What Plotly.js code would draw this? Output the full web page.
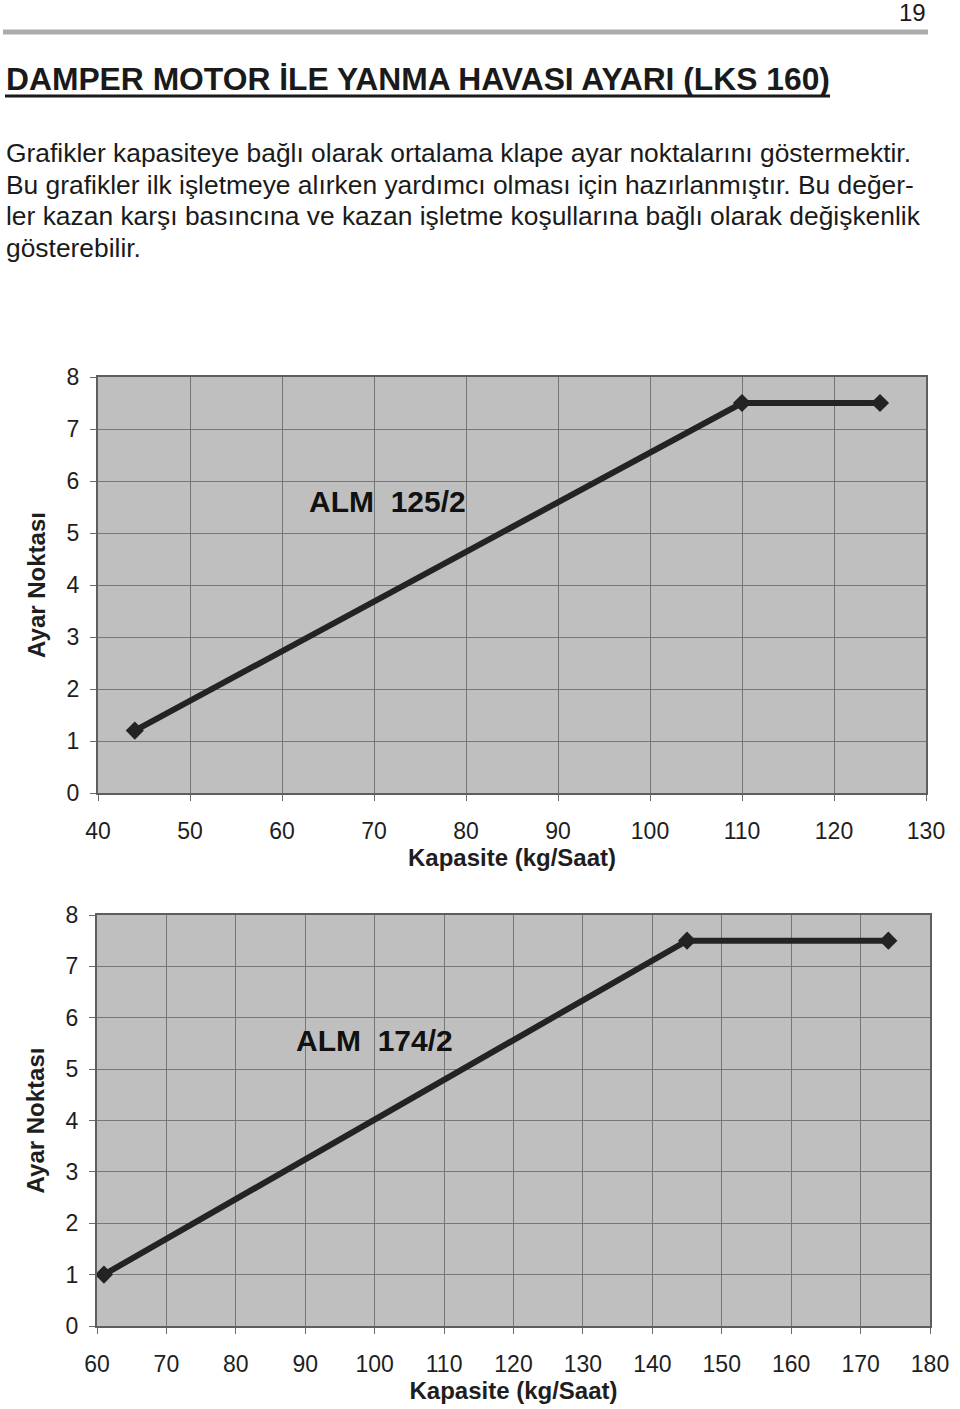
<!DOCTYPE html>
<html>
<head>
<meta charset="utf-8">
<script src="https://cdn.plot.ly/plotly-3.0.1.min.js"></script>
<style>
  body { margin: 0; background: #fff; }
  #plot { width: 960px; height: 1409px; }
</style>
</head>
<body>
<div id="plot"></div>
<script>
// ALM 125/2
var kap1 = [44, 110, 125];
var ayar1 = [1.2, 7.5, 7.5];
// ALM 174/2
var kap2 = [61, 145, 174];
var ayar2 = [1, 7.5, 7.5];

var pageNo = '19';
var heading = 'DAMPER MOTOR İLE YANMA HAVASI AYARI (LKS 160)';
var bodyLines = [
    'Grafikler kapasiteye bağlı olarak ortalama klape ayar noktalarını göstermektir.',
    'Bu grafikler ilk işletmeye alırken yardımcı olması için hazırlanmıştır. Bu değer-',
    'ler kazan karşı basıncına ve kazan işletme koşullarına bağlı olarak değişkenlik',
    'gösterebilir.'
];

var W = 960, H = 1409;
function px(x) { return x / W; }
function py(y) { return 1 - y / H; }

var lineStyle = { color: '#232323', width: 6 };
var markerStyle = { symbol: 'diamond', size: 14, color: '#232323' };

var trace1 = {
    x: kap1, y: ayar1,
    mode: 'lines+markers', type: 'scatter',
    line: lineStyle, marker: markerStyle,
    xaxis: 'x', yaxis: 'y'
};
var trace2 = {
    x: kap2, y: ayar2,
    mode: 'lines+markers', type: 'scatter',
    line: lineStyle, marker: markerStyle,
    xaxis: 'x2', yaxis: 'y2'
};

var sans = 'Liberation Sans, Arial, sans-serif';
var tickFont = { family: sans, size: 23, color: '#1e1e1e' };
var titleFont = { family: sans, size: 24, color: '#1e1e1e' };

function xAxis(domain, range, anchor) {
    return {
        domain: domain, range: range, dtick: 10, anchor: anchor,
        showgrid: true, gridcolor: '#777777', gridwidth: 1,
        showline: true, linecolor: '#5e5e5e', linewidth: 2, mirror: true,
        ticks: 'outside', ticklen: 6, tickcolor: '#6a6a6a',
        ticklabelstandoff: 10,
        zeroline: false, tickfont: tickFont,
        title: { text: '<b>Kapasite (kg/Saat)</b>', font: titleFont, standoff: 0 }
    };
}
function yAxis(domain, anchor) {
    return {
        domain: domain, range: [0, 8], dtick: 1, anchor: anchor,
        showgrid: true, gridcolor: '#777777', gridwidth: 1,
        showline: true, linecolor: '#5e5e5e', linewidth: 2, mirror: true,
        ticks: 'outside', ticklen: 6, tickcolor: '#6a6a6a',
        ticklabelstandoff: 6,
        zeroline: false, tickfont: tickFont,
        title: { text: '<b>Ayar Noktası</b>', font: titleFont, standoff: 14 }
    };
}

var textFont = { family: sans, size: 26.4, color: '#1a1a1a' };

var annotations = [
    { xref: 'paper', yref: 'paper', x: px(928), y: py(13), xanchor: 'right', yanchor: 'middle',
      text: pageNo, showarrow: false, font: { family: sans, size: 24, color: '#1a1a1a' } },
    { xref: 'paper', yref: 'paper', x: px(4), y: py(79), xanchor: 'left', yanchor: 'middle',
      text: '<b>' + heading + '</b>', showarrow: false,
      font: { family: sans, size: 31.8, color: '#1a1a1a' } },
    { xref: 'x', yref: 'y', x: 71.5, y: 5.6, text: '<b>ALM  125/2</b>', showarrow: false,
      font: { family: sans, size: 30, color: '#111' } },
    { xref: 'x2', yref: 'y2', x: 100, y: 5.55, text: '<b>ALM  174/2</b>', showarrow: false,
      font: { family: sans, size: 30, color: '#111' } }
];
var lineY = [153, 185, 216, 248];
bodyLines.forEach(function (t, i) {
    annotations.push({ xref: 'paper', yref: 'paper', x: px(4), y: py(lineY[i]),
        xanchor: 'left', yanchor: 'middle', text: t, showarrow: false, font: textFont });
});

var shapes = [
    { type: 'line', xref: 'paper', yref: 'paper', x0: px(3), x1: px(928), y0: py(32), y1: py(32),
      line: { color: '#ababab', width: 5 } },
    { type: 'line', xref: 'paper', yref: 'paper', x0: px(5), x1: px(830), y0: py(96), y1: py(96),
      line: { color: '#1a1a1a', width: 3 } }
];

var layout = {
    width: W, height: H,
    margin: { l: 0, r: 0, t: 0, b: 0 },
    paper_bgcolor: '#ffffff',
    plot_bgcolor: '#bfbfbf',
    showlegend: false,
    xaxis: xAxis([px(98), px(926)], [40, 130], 'y'),
    yaxis: yAxis([py(793), py(377)], 'x'),
    xaxis2: xAxis([px(97), px(930)], [60, 180], 'y2'),
    yaxis2: yAxis([py(1326), py(915)], 'x2'),
    annotations: annotations,
    shapes: shapes
};

Plotly.newPlot('plot', [trace1, trace2], layout, { staticPlot: true });
</script>
</body>
</html>
